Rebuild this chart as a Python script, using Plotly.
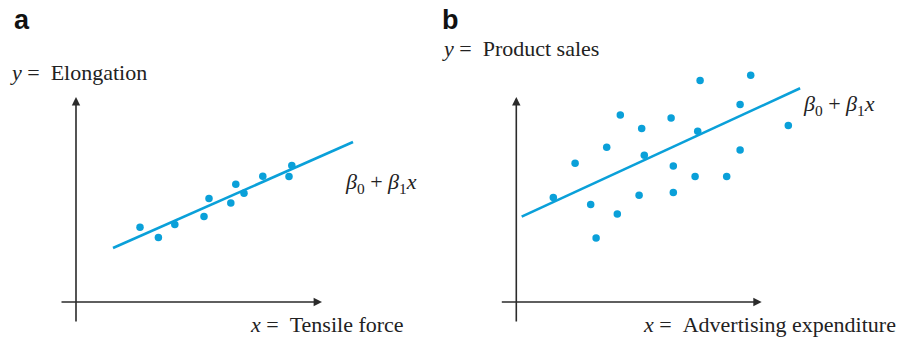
import numpy as np
import plotly.graph_objects as go

# ---- Panel a: elongation vs tensile force ----
force = [3.20, 4.12, 4.94, 6.40, 6.65, 7.74, 7.99, 8.40, 9.34, 10.65, 10.79]
elongation = [3.74, 3.22, 3.87, 4.27, 5.17, 4.95, 5.89, 5.44, 6.29, 6.27, 6.82]
a_beta0, a_beta1 = 1.88, 0.442
a_line_x = [1.85, 13.85]

# ---- Panel b: product sales vs advertising expenditure ----
advertising = [1.85, 2.94, 3.72, 3.99, 4.52, 5.05, 5.20, 6.14, 6.27, 6.40, 7.74,
               7.85, 7.85, 8.94, 9.07, 9.19, 10.52, 11.19, 11.19, 11.72, 13.60]
sales = [5.22, 6.94, 4.87, 3.20, 7.74, 4.40, 9.35, 5.34, 8.67, 7.34, 9.20,
         6.80, 5.47, 6.27, 8.54, 11.07, 6.27, 9.87, 7.60, 11.34, 8.82]
b_beta0, b_beta1 = 4.145, 0.461
b_line_x = [0.27, 14.19]

panel_letters = ["a", "b"]
y_titles = ["Elongation", "Product sales"]
x_titles = ["Tensile force", "Advertising expenditure"]

BLUE = "#0aa0d9"
AXIS = "#2b2b2b"
W, H = 912, 339
SCALE = 20.0  # pixels per data unit

# panel geometry: (pixel span of subplot, pixel origin of the drawn axes)
panels = [
    dict(px0=0, px1=440, ox=76.0, oy=302.0),
    dict(px0=440, px1=912, ox=516.3, oy=302.0),
]

SERIF = dict(family="Liberation Serif", size=22, color="#222")

fig = go.Figure()
layout = dict(width=W, height=H, margin=dict(l=0, r=0, t=0, b=0),
              paper_bgcolor="white", plot_bgcolor="white", showlegend=False,
              font=SERIF)

for i, p in enumerate(panels):
    xa = "xaxis" if i == 0 else "xaxis2"
    ya = "yaxis" if i == 0 else "yaxis2"
    layout[xa] = dict(domain=[p["px0"] / W, p["px1"] / W],
                      range=[(p["px0"] - p["ox"]) / SCALE, (p["px1"] - p["ox"]) / SCALE],
                      visible=False, fixedrange=True)
    layout[ya] = dict(domain=[0, 1],
                      range=[(p["oy"] - H) / SCALE, p["oy"] / SCALE],
                      visible=False, fixedrange=True)
    if i == 1:
        layout[ya]["anchor"] = "x2"
        layout[xa]["anchor"] = "y2"
fig.update_layout(**layout)

datasets = [
    (force, elongation, a_beta0, a_beta1, a_line_x, "x", "y"),
    (advertising, sales, b_beta0, b_beta1, b_line_x, "x2", "y2"),
]

for xs, ys, b0, b1, lx, xr, yr in datasets:
    lx = np.array(lx)
    fig.add_trace(go.Scatter(x=lx, y=b0 + b1 * lx, mode="lines",
                             line=dict(color=BLUE, width=2.6),
                             xaxis=xr, yaxis=yr, hoverinfo="skip"))
    fig.add_trace(go.Scatter(x=xs, y=ys, mode="markers",
                             marker=dict(color=BLUE, size=7.5, line=dict(width=0)),
                             xaxis=xr, yaxis=yr))

eq_text = "<i>β</i><sub>0</sub> + <i>β</i><sub>1</sub><i>x</i>"

annotations = []
# extent of the drawn axes in data units
x_axis_span = [(-0.8, 12.3), (-0.8, 12.27)]
y_axis_span = (-1.05, 10.25)
eq_pos = [(13.35, 5.95), (14.25, 9.85)]
ytitle_pos = [(-3.4, 11.5), (-3.8, 12.7)]
xtitle_pos = [(8.6, -1.12), (6.25, -1.12)]
letter_pos = [(-3.2, 14.1), (-3.8, 14.1)]

for i in range(2):
    xr = "x" if i == 0 else "x2"
    yr = "y" if i == 0 else "y2"
    # axis lines with arrowheads
    annotations.append(dict(x=0, y=y_axis_span[1], ax=0, ay=y_axis_span[0],
                            xref=xr, yref=yr, axref=xr, ayref=yr, text="",
                            showarrow=True, arrowhead=2, arrowsize=1.05,
                            arrowwidth=1.6, arrowcolor=AXIS, standoff=0))
    annotations.append(dict(x=x_axis_span[i][1], y=0, ax=x_axis_span[i][0], ay=0,
                            xref=xr, yref=yr, axref=xr, ayref=yr, text="",
                            showarrow=True, arrowhead=2, arrowsize=1.05,
                            arrowwidth=1.6, arrowcolor=AXIS, standoff=0))
    annotations.append(dict(x=eq_pos[i][0], y=eq_pos[i][1], xref=xr, yref=yr,
                            text=eq_text, showarrow=False, xanchor="left",
                            yanchor="middle", font=SERIF))
    annotations.append(dict(x=ytitle_pos[i][0], y=ytitle_pos[i][1], xref=xr, yref=yr,
                            text="<i>y</i> =\u00a0\u00a0" + y_titles[i], showarrow=False,
                            xanchor="left", yanchor="middle", font=SERIF))
    annotations.append(dict(x=xtitle_pos[i][0], y=xtitle_pos[i][1], xref=xr, yref=yr,
                            text="<i>x</i> =\u00a0\u00a0" + x_titles[i], showarrow=False,
                            xanchor="left", yanchor="middle", font=SERIF))
    annotations.append(dict(x=letter_pos[i][0], y=letter_pos[i][1], xref=xr, yref=yr,
                            text="<b>" + panel_letters[i] + "</b>", showarrow=False,
                            xanchor="left", yanchor="middle",
                            font=dict(family="Liberation Sans", size=27, color="#111")))

fig.update_layout(annotations=annotations)
fig.write_html("out.html")
